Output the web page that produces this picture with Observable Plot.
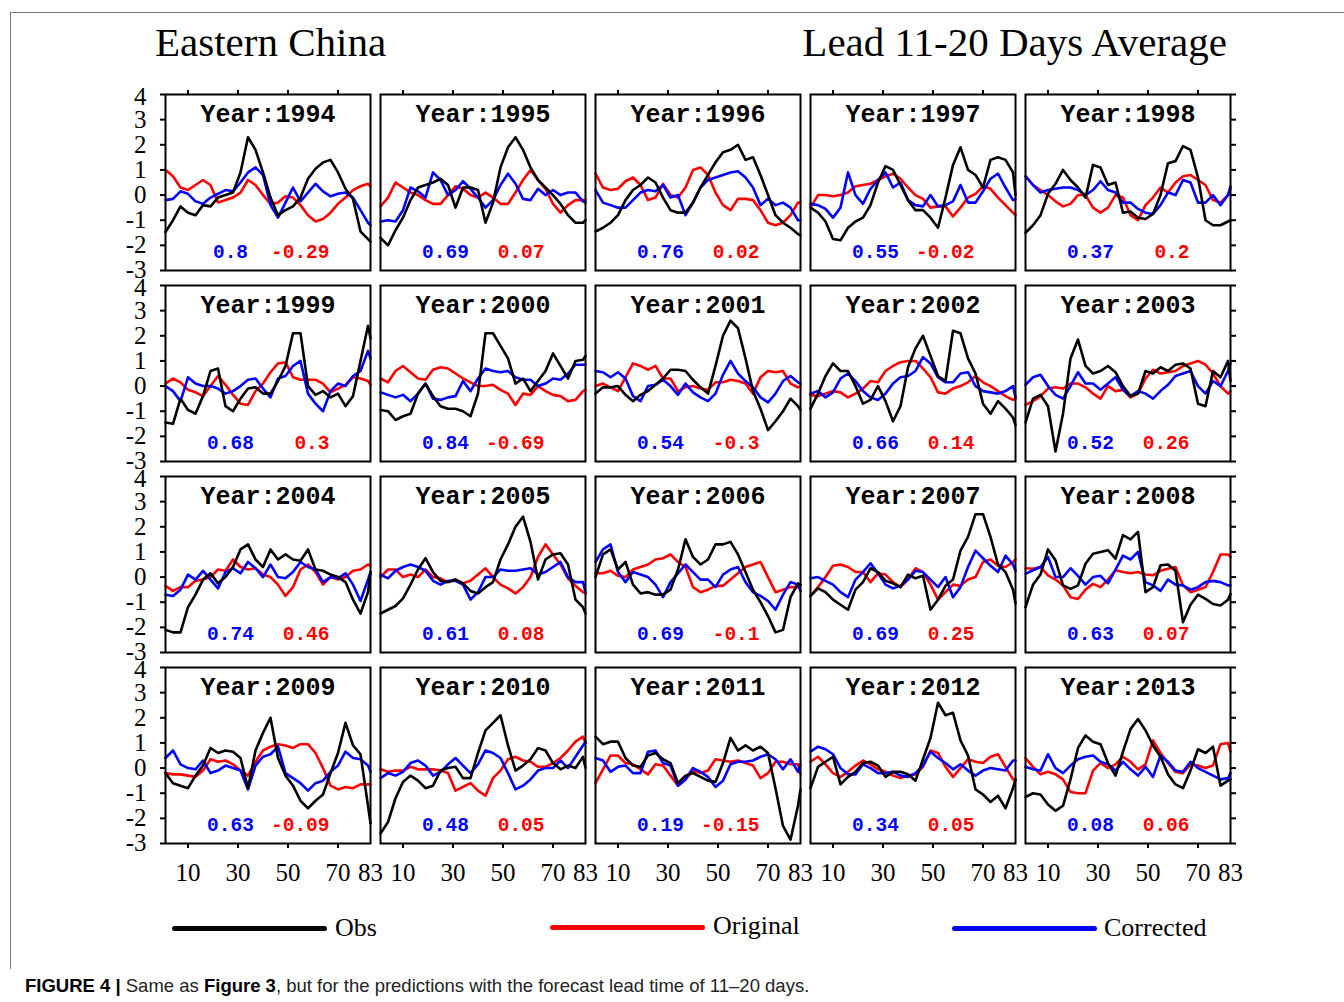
<!DOCTYPE html>
<html>
<head>
<meta charset="utf-8">
<script src="https://cdn.jsdelivr.net/npm/d3@7"></script>
<script src="https://cdn.jsdelivr.net/npm/@observablehq/plot@0.6"></script>
<style>
  body { margin: 0; background: #fff; }
  #fig { position: relative; width: 1344px; height: 1002px; overflow: hidden; background: #fff; }
  .border { position: absolute; left: 10px; top: 12px; width: 1400px; height: 956px; border-top: 1px solid #777; border-left: 1px solid #777; }
  .title { position: absolute; top: 22px; font-family: "Liberation Serif", "Times New Roman", serif; font-size: 41px; line-height: 41px; color: #000; white-space: nowrap; }
  .panel { position: absolute; }
  .panel svg { overflow: visible; display: block; }
  .legline { position: absolute; height: 5px; border-radius: 3px; }
  .leglabel { position: absolute; top: 913px; font-family: "Liberation Serif", "Times New Roman", serif; font-size: 26px; line-height: 30px; color: #000; white-space: nowrap; }
  .caption { position: absolute; left: 25px; top: 975px; font-family: "Liberation Sans", Arial, sans-serif; font-size: 18.5px; line-height: 22px; color: #222; white-space: nowrap; }
  .caption b { color: #000; }
</style>
</head>
<body>
<div id="fig">
  <div class="border"></div>
  <div class="title" style="left:155px;">Eastern China</div>
  <div class="title" style="right:117px;">Lead 11-20 Days Average</div>
  <div id="panels"></div>
  <div class="legline" style="left:172px;top:926px;width:155px;background:#000;"></div>
  <div class="leglabel" style="left:335px;">Obs</div>
  <div class="legline" style="left:550px;top:925px;width:155px;background:#ff0000;"></div>
  <div class="leglabel" style="left:713px;top:911px;">Original</div>
  <div class="legline" style="left:952px;top:926px;width:145px;background:#0000ff;"></div>
  <div class="leglabel" style="left:1104px;">Corrected</div>
  <div class="caption"><b>FIGURE 4 |</b> Same as <b>Figure 3</b>, but for the predictions with the forecast lead time of 11–20 days.</div>
</div>
<script>
// ---------------- data ----------------
const days = [1,4,7,10,13,16,19,22,25,28,31,34,37,40,43,46,49,52,55,58,61,64,67,70,73,76,79,82,83];
const years = [1994,1995,1996,1997,1998,1999,2000,2001,2002,2003,2004,2005,2006,2007,2008,2009,2010,2011,2012,2013];
const seriesNames = ["Obs", "Original", "Corrected"];
const seriesColors = ["#000000", "#ff0000", "#0000ff"];
const corrCorrected = [0.8,0.69,0.76,0.55,0.37,0.68,0.84,0.54,0.66,0.52,0.74,0.61,0.69,0.69,0.63,0.63,0.48,0.19,0.34,0.08];
const corrOriginal = [-0.29,0.07,0.02,-0.02,0.2,0.3,-0.69,-0.3,0.14,0.26,0.46,0.08,-0.1,0.25,0.07,-0.09,0.05,-0.15,0.05,0.06];
const yTicks = [-3,-2,-1,0,1,2,3,4];
const xTicks = [10,30,50,70];
const xTickLabels = [10,30,50,70,83];

const obs1994 = [-1.47,-1.0,-0.45,-0.7,-0.8,-0.4,-0.45,-0.1,0.0,0.1,0.9,2.3,1.8,0.9,-0.1,-0.8,-0.6,-0.45,-0.1,0.65,1.05,1.3,1.4,0.9,0.25,-0.15,-1.45,-1.75,-1.85];
const orig1994 = [1.0,0.75,0.3,0.2,0.4,0.6,0.4,-0.3,-0.2,-0.1,0.1,0.6,0.4,0.0,-0.35,-0.3,-0.05,-0.1,-0.4,-0.8,-1.05,-0.95,-0.7,-0.35,-0.1,0.2,0.35,0.45,0.35];
const corr1994 = [-0.2,-0.15,0.15,0.05,-0.25,-0.35,-0.1,0.05,0.2,0.15,0.5,0.9,1.1,0.8,-0.4,-0.9,-0.3,0.3,-0.25,0.1,0.45,0.15,-0.05,0.05,0.1,-0.1,-0.6,-1.1,-1.2];

const obs1995 = [-1.7,-2.0,-1.4,-0.9,-0.2,0.3,0.4,0.5,0.65,0.4,-0.5,0.3,0.3,0.2,-1.1,-0.3,1.1,1.9,2.3,1.8,1.1,0.6,0.3,0.0,-0.35,-0.8,-1.1,-1.1,-1.0];
const orig1995 = [-0.45,-0.1,0.5,0.3,0.1,0.0,-0.2,-0.35,-0.35,0.0,0.35,0.25,0.0,-0.1,0.1,-0.1,-0.35,-0.35,0.1,0.6,1.0,0.6,0.25,-0.35,-0.7,-0.4,-0.2,-0.2,-0.2];
const corr1995 = [-1.05,-1.0,-1.05,-0.6,0.3,0.15,-0.1,0.9,0.6,0.0,0.2,0.55,0.25,-0.1,-0.5,-0.2,0.4,0.85,0.45,-0.15,-0.2,0.25,0.0,0.2,0.0,0.1,0.1,-0.25,-0.3];

const obs1996 = [-1.45,-1.3,-1.1,-0.8,-0.2,0.2,0.4,0.7,0.5,-0.1,-0.6,-0.7,-0.7,-0.3,0.3,0.8,1.3,1.7,1.8,2.0,1.4,1.5,0.8,0.0,-0.8,-1.1,-1.3,-1.55,-1.6];
const orig1996 = [0.85,0.3,0.2,0.25,0.55,0.7,0.4,-0.2,-0.1,0.45,0.0,-0.1,0.3,1.0,1.1,0.8,0.1,-0.4,-0.6,-0.15,-0.15,-0.2,-0.6,-1.1,-1.2,-1.1,-0.8,-0.3,-0.3];
const corr1996 = [0.2,-0.3,-0.4,-0.5,-0.5,-0.2,0.1,0.2,0.15,0.4,-0.1,0.0,-0.8,-0.3,0.3,0.6,0.7,0.8,0.9,0.95,0.7,0.3,-0.4,-0.15,-0.4,-0.3,-0.5,-1.0,-1.0];

const obs1997 = [-0.5,-0.7,-1.05,-1.75,-1.8,-1.3,-1.05,-0.9,-0.4,0.5,1.15,1.0,0.4,-0.2,-0.6,-0.6,-0.9,-1.3,-0.1,1.2,1.9,1.0,0.8,0.3,1.4,1.5,1.4,0.9,0.0];
const orig1997 = [-0.5,0.0,0.0,-0.05,0.0,0.1,0.35,0.4,0.45,0.6,0.75,0.85,0.65,0.3,0.0,-0.15,-0.5,-0.45,-0.45,-0.85,-0.5,-0.1,0.05,0.35,0.25,-0.1,-0.4,-0.7,-0.8];
const corr1997 = [-0.35,-0.4,-0.55,-0.9,-0.5,0.9,0.0,-0.35,0.25,0.6,0.9,0.3,0.5,-0.2,-0.4,-0.45,0.0,-0.45,-0.4,-0.25,0.4,-0.3,-0.3,0.15,0.65,0.85,0.3,-0.2,-0.15];

const obs1998 = [-1.5,-1.2,-0.8,0.05,0.45,1.0,0.6,0.3,-0.1,1.2,1.1,0.4,0.5,-0.7,-0.65,-0.9,-0.95,-0.75,0.0,1.27,1.35,1.95,1.8,0.7,-1.0,-1.2,-1.2,-1.05,-1.0];
const orig1998 = [0.75,0.4,0.2,0.0,-0.25,-0.45,-0.35,0.0,0.0,-0.5,-0.7,-0.5,0.0,-0.1,-0.8,-1.0,-0.4,-0.1,0.3,0.1,0.5,0.75,0.8,0.6,0.4,-0.2,-0.3,0.0,0.25];
const corr1998 = [0.75,0.4,0.1,0.2,0.25,0.3,0.3,0.2,0.0,0.2,0.55,0.2,0.1,-0.3,-0.3,-0.55,-0.7,-0.75,-0.4,0.1,0.0,0.6,0.5,-0.3,-0.3,0.0,-0.4,0.0,0.35];

const obs1999 = [-1.45,-1.5,-0.5,-0.95,-1.1,-0.4,0.6,0.7,-0.8,-1.0,-0.5,-0.1,-0.05,-0.3,-0.3,0.2,0.8,2.1,2.1,0.0,-0.35,-0.2,-0.45,-0.3,-0.8,-0.4,1.0,2.4,1.9];
const orig1999 = [0.1,0.3,0.15,-0.15,-0.25,-0.4,0.0,0.4,0.05,-0.35,-0.7,-0.75,-0.2,0.1,0.55,0.9,0.95,0.35,0.25,0.25,0.25,0.1,-0.25,-0.1,0.05,0.35,0.3,0.2,0.05];
const corr1999 = [0.0,-0.2,-0.6,0.35,0.1,0.0,0.0,-0.1,-0.3,-0.2,0.0,0.25,0.3,-0.1,-0.45,0.3,0.4,0.8,1.0,-0.3,-0.7,-1.0,-0.2,0.1,0.0,0.4,0.6,1.4,1.1];

const obs2000 = [-0.95,-1.0,-1.35,-1.2,-1.1,-0.3,0.1,-0.4,-0.8,-0.9,-0.9,-1.0,-1.2,-0.3,2.1,2.1,1.6,1.1,0.1,0.3,-0.2,0.2,0.6,1.3,0.8,0.3,1.0,1.05,1.2];
const orig2000 = [0.3,0.15,0.6,0.8,0.55,0.3,0.25,0.65,0.75,0.7,0.5,0.3,0.15,0.0,0.0,0.05,-0.15,-0.3,-0.75,-0.3,-0.35,0.0,-0.2,-0.35,-0.4,-0.6,-0.55,-0.2,-0.15];
const corr2000 = [-0.25,-0.35,-0.45,-0.35,-0.6,-0.3,0.1,-0.5,-0.55,-0.45,-0.4,0.2,-0.2,0.3,0.7,0.6,0.55,0.6,0.35,0.25,0.25,0.0,0.1,0.3,0.25,0.5,0.85,0.85,0.85];

const obs2001 = [-0.3,-0.05,-0.05,0.0,-0.35,-0.6,-0.35,-0.2,0.05,0.3,0.65,0.65,0.6,0.25,-0.05,-0.3,0.8,2.0,2.6,2.3,1.1,-0.2,-0.9,-1.75,-1.4,-1.0,-0.5,-0.8,-0.95];
const orig2001 = [0.0,0.1,-0.05,-0.2,0.35,0.9,0.8,0.65,0.8,0.3,0.3,-0.2,-0.05,0.0,-0.1,-0.15,0.15,0.15,0.25,0.2,0.1,-0.3,0.35,0.6,0.55,0.6,0.1,-0.05,0.0];
const corr2001 = [0.6,0.55,0.35,0.55,0.3,-0.4,-0.6,0.0,0.05,0.25,0.0,-0.35,0.1,-0.25,-0.45,-0.6,-0.3,0.45,1.0,0.5,0.2,-0.05,-0.45,-0.65,-0.3,0.2,0.4,0.15,0.1];

const obs2002 = [-0.9,-0.3,0.4,0.9,0.6,0.6,0.0,-0.7,-0.55,0.0,-0.6,-1.4,-0.8,0.75,1.5,2.0,1.2,0.4,0.2,2.2,2.1,1.1,0.5,-0.7,-1.1,-0.6,-0.9,-1.25,-1.55];
const orig2002 = [-0.35,-0.4,-0.3,-0.2,-0.25,-0.45,-0.3,-0.1,0.2,0.15,0.6,0.8,0.95,1.0,1.0,0.7,0.35,-0.25,-0.3,-0.1,0.0,0.15,0.4,0.15,0.0,-0.2,-0.4,-0.55,-0.5];
const corr2002 = [-0.3,-0.2,-0.45,-0.25,0.3,0.5,0.2,-0.2,-0.45,-0.55,-0.3,0.1,0.35,0.4,0.6,1.15,0.9,0.35,0.15,0.15,0.5,0.55,0.0,-0.2,-0.25,-0.3,-0.2,0.0,-0.45];

const obs2003 = [-1.45,-0.5,-0.35,-0.8,-2.6,-1.1,1.1,1.85,0.8,0.5,0.6,0.8,0.55,0.0,-0.4,-0.3,0.6,0.5,0.75,0.6,0.85,0.9,0.7,-0.7,-0.8,0.6,0.35,1.0,0.2];
const orig2003 = [-0.75,-0.6,-0.4,-0.1,-0.05,-0.1,0.1,0.1,-0.05,-0.3,-0.5,0.0,-0.2,-0.15,-0.45,-0.3,0.3,0.65,0.5,0.55,0.6,0.8,0.9,1.0,0.85,0.5,0.0,-0.3,-0.2];
const corr2003 = [0.05,0.35,0.45,0.0,-0.35,-0.5,0.0,0.55,0.1,0.1,-0.15,0.1,0.35,-0.15,-0.4,-0.2,-0.3,-0.5,-0.2,0.05,0.4,0.5,0.6,0.0,-0.3,0.2,0.0,0.6,0.9];

const obs2004 = [-2.1,-2.2,-2.2,-1.2,-0.7,-0.1,0.15,-0.25,0.0,0.4,1.1,1.3,0.7,0.4,1.1,0.7,0.9,0.7,0.65,1.1,0.3,0.25,0.1,0.0,-0.2,-0.9,-1.45,-0.6,0.2];
const orig2004 = [-0.35,-0.55,-0.4,-0.4,-0.15,-0.1,0.0,0.3,0.25,0.7,0.4,0.3,0.35,0.1,0.0,-0.3,-0.75,-0.4,0.3,0.5,0.2,-0.3,0.0,-0.1,0.0,0.25,0.3,0.5,0.45];
const corr2004 = [-0.7,-0.75,-0.5,0.1,-0.1,0.25,-0.1,-0.45,0.2,0.35,0.15,0.6,0.35,0.0,0.5,0.0,-0.05,0.2,0.6,0.4,0.3,-0.2,0.0,-0.05,0.15,-0.3,-0.95,-0.1,0.2];

const obs2005 = [-1.45,-1.3,-1.15,-0.85,-0.3,0.3,0.75,0.2,-0.15,-0.2,-0.1,-0.25,-0.55,-0.65,-0.4,-0.2,0.7,1.3,2.0,2.4,1.4,-0.1,0.7,0.9,0.95,0.5,-0.9,-1.2,-1.45];
const orig2005 = [0.0,0.3,0.3,0.0,0.1,0.0,0.3,0.0,-0.05,-0.2,-0.1,-0.25,-0.15,0.1,0.35,0.0,-0.3,-0.45,-0.65,-0.4,0.0,0.8,1.3,0.9,0.5,-0.05,-0.35,-0.6,-0.65];
const corr2005 = [0.1,-0.05,0.25,0.4,0.5,0.4,0.25,-0.15,-0.3,-0.15,-0.15,-0.3,-0.9,-0.6,0.0,0.0,0.3,0.25,0.25,0.3,0.35,0.1,0.2,0.4,0.6,0.0,-0.2,-0.2,-0.6];

const obs2006 = [0.0,0.9,1.1,0.3,0.6,-0.3,-0.65,-0.6,-0.7,-0.7,-0.5,0.3,1.5,0.8,0.5,0.7,1.3,1.3,1.4,0.9,0.2,-0.5,-1.0,-1.55,-2.2,-2.1,-0.8,-0.25,-0.3];
const orig2006 = [0.15,0.15,0.25,0.05,0.0,0.3,0.4,0.5,0.7,0.75,0.9,0.6,0.4,-0.4,-0.6,-0.5,-0.35,-0.35,-0.1,0.15,0.4,0.5,0.6,0.0,-0.6,-0.5,-0.4,-0.4,-0.3];
const corr2006 = [0.6,1.1,1.3,0.2,-0.2,0.2,0.1,0.0,-0.3,-0.8,-0.2,0.15,0.5,0.2,-0.1,-0.1,-0.4,0.1,0.3,0.4,-0.2,-0.6,-0.75,-0.95,-1.3,-0.7,-0.2,-0.3,-0.55];

const obs2007 = [-0.75,-0.45,-0.6,-0.9,-1.1,-1.3,-0.5,-0.2,0.35,0.2,-0.15,-0.25,-0.4,0.1,-0.05,0.05,-1.3,-0.9,-0.35,-0.1,1.05,1.6,2.5,2.5,1.6,0.5,0.2,-0.5,-1.05];
const orig2007 = [-0.75,-0.4,0.0,0.45,0.5,0.4,0.2,0.2,-0.2,0.15,0.1,-0.2,-0.4,-0.1,0.35,0.2,-0.3,-0.9,-0.6,-0.3,-0.35,-0.1,0.0,0.6,0.7,0.45,0.4,0.6,0.7];
const corr2007 = [-0.05,0.0,-0.15,-0.3,-0.6,-0.8,-0.1,0.2,0.55,0.15,-0.3,-0.45,-0.35,-0.1,0.25,0.2,-0.1,-0.4,0.0,-0.8,-0.4,0.4,1.05,0.75,0.45,0.2,0.85,0.5,0.25];

const obs2008 = [-1.2,-0.3,0.1,1.1,0.67,-0.33,-0.47,-0.33,0.53,0.93,1.0,1.07,0.73,1.67,1.5,1.8,-0.6,-0.4,0.47,0.5,0.25,-1.8,-1.1,-0.7,-0.87,-1.07,-1.13,-0.9,-0.67];
const orig2008 = [0.35,0.33,0.4,0.07,-0.1,-0.33,-0.8,-0.87,-0.5,-0.27,-0.4,-0.1,0.27,0.2,0.15,0.2,0.1,0.07,0.25,0.33,0.4,-0.33,-0.6,-0.5,-0.4,0.2,0.9,0.9,0.8];
const corr2008 = [0.13,0.27,0.4,0.8,0.0,0.0,0.35,0.05,-0.3,0.0,0.05,-0.25,0.3,0.85,0.7,1.0,-0.2,-0.33,-0.55,-0.1,-0.3,-0.33,-0.5,-0.4,-0.2,-0.15,-0.2,-0.33,-0.33];

const obs2009 = [-0.2,-0.6,-0.7,-0.8,-0.3,0.1,0.8,0.6,0.7,0.65,0.4,-0.8,0.7,1.4,2.0,0.4,-0.3,-0.7,-1.3,-1.6,-1.3,-1.05,-0.2,0.6,1.8,0.9,0.55,-1.5,-2.2];
const orig2009 = [-0.2,-0.25,-0.25,-0.3,-0.35,-0.1,0.35,0.25,0.3,0.15,-0.1,-0.3,0.25,0.7,0.85,0.95,0.9,0.8,0.95,0.95,0.6,0.0,-0.7,-0.85,-0.75,-0.8,-0.65,-0.65,-0.65];
const corr2009 = [0.4,0.7,0.15,0.0,-0.05,0.3,-0.2,-0.1,0.1,0.0,-0.1,-0.85,0.1,0.45,0.55,0.85,-0.2,-0.4,-0.6,-0.9,-0.6,-0.5,-0.15,0.1,0.65,0.4,0.35,0.1,-0.15];

const obs2010 = [-2.6,-2.15,-1.2,-0.55,-0.3,-0.5,-0.8,-0.7,-0.1,0.0,0.05,-0.4,-0.4,0.6,1.5,1.8,2.1,0.9,-0.1,0.1,0.35,0.8,0.7,0.2,-0.05,0.1,0.0,0.45,0.0];
const orig2010 = [-0.05,-0.15,-0.1,-0.1,0.05,-0.05,-0.05,-0.05,-0.1,-0.2,-0.9,-0.75,-0.6,-0.9,-1.1,-0.4,-0.1,0.35,0.45,0.3,0.25,0.05,0.05,0.2,0.4,0.7,1.05,1.25,1.0];
const corr2010 = [-0.4,-0.2,-0.3,-0.15,0.2,0.3,0.1,-0.3,-0.15,0.15,0.4,0.1,-0.2,0.15,0.7,0.6,0.4,-0.2,-0.85,-0.7,-0.45,-0.1,0.0,0.0,0.3,0.0,0.45,0.9,1.05];

const obs2011 = [1.25,0.95,1.05,1.05,0.4,0.1,0.05,0.5,0.6,0.35,0.2,-0.6,-0.3,-0.2,-0.35,-0.5,-0.55,0.2,1.2,0.7,0.9,0.7,0.85,0.6,-0.8,-2.3,-2.85,-1.5,-0.85];
const orig2011 = [-0.6,-0.05,0.5,0.5,0.2,0.15,-0.05,-0.25,0.15,0.1,-0.3,-0.7,-0.45,-0.1,-0.2,-0.1,0.35,0.3,0.25,0.3,0.2,0.1,-0.4,-0.2,0.25,0.25,0.15,0.15,-0.25];
const corr2011 = [0.4,0.3,-0.15,0.05,0.1,-0.2,-0.2,0.65,0.7,0.2,0.1,-0.7,-0.45,0.0,-0.15,-0.35,-0.75,-0.5,0.15,0.25,0.25,0.3,0.45,0.55,0.35,-0.05,0.35,-0.15,0.15];

const obs2012 = [-0.8,0.05,0.25,0.45,-0.65,-0.35,-0.15,0.2,0.25,0.1,-0.35,-0.15,-0.15,-0.25,-0.5,0.35,1.2,2.6,2.1,2.2,1.1,0.5,-0.85,-1.05,-1.35,-1.1,-1.6,-0.8,-0.45];
const orig2012 = [0.25,0.45,0.15,-0.2,-0.35,-0.15,0.1,0.3,0.15,-0.05,-0.15,-0.3,-0.4,-0.3,-0.25,0.05,0.7,0.6,0.05,-0.35,0.0,0.35,0.25,0.2,0.45,0.55,0.05,-0.45,-0.5];
const corr2012 = [0.65,0.85,0.75,0.55,0.0,-0.25,-0.25,0.15,0.0,-0.2,-0.2,-0.15,-0.3,-0.35,-0.2,0.1,0.65,0.4,0.2,-0.05,0.15,-0.1,-0.3,-0.1,0.0,-0.05,-0.1,0.3,0.3];

const obs2013 = [-1.15,-1.0,-1.05,-1.45,-1.7,-1.5,-0.45,0.8,1.3,1.05,0.95,0.2,-0.3,0.65,1.55,1.95,1.5,0.9,0.45,-0.25,-0.65,-0.8,-0.1,0.75,0.6,0.85,-0.7,-0.5,-0.45];
const orig2013 = [0.4,0.05,-0.25,-0.15,-0.25,-0.45,-0.95,-1.0,-1.0,-0.1,0.2,0.0,0.15,0.45,0.25,-0.05,0.15,1.1,0.6,0.2,-0.15,-0.2,0.15,0.1,0.0,0.1,0.95,1.0,0.65];
const corr2013 = [0.05,-0.05,-0.1,0.55,0.0,-0.2,0.1,0.35,0.45,0.5,0.25,0.15,-0.1,0.25,-0.05,-0.3,0.05,-0.35,0.5,0.25,-0.1,-0.15,0.25,0.0,-0.15,-0.3,-0.45,-0.4,-0.2];

const obsSeries = [obs1994,obs1995,obs1996,obs1997,obs1998,obs1999,obs2000,obs2001,obs2002,obs2003,obs2004,obs2005,obs2006,obs2007,obs2008,obs2009,obs2010,obs2011,obs2012,obs2013];
const origSeries = [orig1994,orig1995,orig1996,orig1997,orig1998,orig1999,orig2000,orig2001,orig2002,orig2003,orig2004,orig2005,orig2006,orig2007,orig2008,orig2009,orig2010,orig2011,orig2012,orig2013];
const corrSeries = [corr1994,corr1995,corr1996,corr1997,corr1998,corr1999,corr2000,corr2001,corr2002,corr2003,corr2004,corr2005,corr2006,corr2007,corr2008,corr2009,corr2010,corr2011,corr2012,corr2013];

// ---------------- layout ----------------
const W = 205, H = 176, ML = 50, MR = 14, MT = 12, MB = 50;
const colLeft = [165, 380, 595, 810, 1025];
const rowTop = [94, 285, 476, 667];
const serif = "'Liberation Serif','Times New Roman',serif";
const mono = "'Liberation Mono','DejaVu Sans Mono',monospace";

const host = document.getElementById("panels");

years.forEach((year, i) => {
  const col = i % 5, row = Math.floor(i / 5);
  const rows = [];
  [["Original", origSeries[i]], ["Corrected", corrSeries[i]], ["Obs", obsSeries[i]]].forEach(([name, vals]) => {
    vals.forEach((v, k) => rows.push({series: name, day: days[k], value: v}));
  });
  const marks = [
    Plot.line(rows, {x: "day", y: "value", z: "series", stroke: "series", strokeWidth: 2.6, strokeLinejoin: "round", strokeLinecap: "round"}),
    Plot.frame({stroke: "#000", strokeWidth: 2}),
    Plot.text([year], {text: d => "Year:" + d, frameAnchor: "top", dy: 19.5, lineAnchor: "middle",
      fontFamily: mono, fontWeight: "bold", fontSize: 25, fill: "#000"}),
    Plot.text([corrCorrected[i]], {text: d => String(d), frameAnchor: "bottom-left", dx: 65, dy: -18.5,
      textAnchor: "middle", lineAnchor: "middle", fontFamily: mono, fontWeight: "bold", fontSize: 19.5, fill: "#0000ff"}),
    Plot.text([corrOriginal[i]], {text: d => String(d), frameAnchor: "bottom-left", dx: 164, dy: -18.5,
      textAnchor: "end", lineAnchor: "middle", fontFamily: mono, fontWeight: "bold", fontSize: 19.5, fill: "#ff0000"})
  ];
  if (col === 0) {
    marks.push(Plot.axisY({anchor: "left", ticks: yTicks, tickSize: 5, fill: "none", label: null, strokeWidth: 2}));
    marks.push(Plot.axisY({anchor: "left", ticks: yTicks.slice(1, -1), tickSize: 0, tickPadding: 19,
      tickFormat: d => String(d), fontSize: 25, fontFamily: serif, label: null, fill: "#000"}));
    marks.push(Plot.axisY({anchor: "left", ticks: [yTicks[0]], tickSize: 0, tickPadding: 19, dy: -1,
      tickFormat: d => String(d), fontSize: 25, fontFamily: serif, label: null, fill: "#000"}));
    marks.push(Plot.axisY({anchor: "left", ticks: [yTicks[yTicks.length - 1]], tickSize: 0, tickPadding: 19, dy: 2,
      tickFormat: d => String(d), fontSize: 25, fontFamily: serif, label: null, fill: "#000"}));
  }
  if (col === 4) marks.push(Plot.axisY({anchor: "right", ticks: yTicks, tickSize: 5, fill: "none",
    label: null, strokeWidth: 2}));
  if (row === 0) marks.push(Plot.axisX({anchor: "top", ticks: xTicks, tickSize: 5, fill: "none",
    label: null, strokeWidth: 2}));
  if (row === 3) {
    marks.push(Plot.axisX({anchor: "bottom", ticks: xTicks, tickSize: 5, fill: "none", label: null, strokeWidth: 2}));
    marks.push(Plot.axisX({anchor: "bottom", ticks: xTickLabels, tickSize: 0, tickPadding: 20,
      tickFormat: d => String(d), fontSize: 25, fontFamily: serif, label: null, fill: "#000"}));
  }
  const chart = Plot.plot({
    width: W + ML + MR,
    height: H + MT + MB,
    marginLeft: ML, marginRight: MR, marginTop: MT, marginBottom: MB,
    x: {domain: [1, 83], axis: null},
    y: {domain: [-3, 4], axis: null},
    color: {domain: seriesNames, range: seriesColors},
    style: {background: "transparent", overflow: "visible", color: "#000"},
    marks
  });
  const div = document.createElement("div");
  div.className = "panel";
  div.style.left = (colLeft[col] - ML) + "px";
  div.style.top = (rowTop[row] - MT) + "px";
  div.appendChild(chart);
  host.appendChild(div);
});
</script>
</body>
</html>
